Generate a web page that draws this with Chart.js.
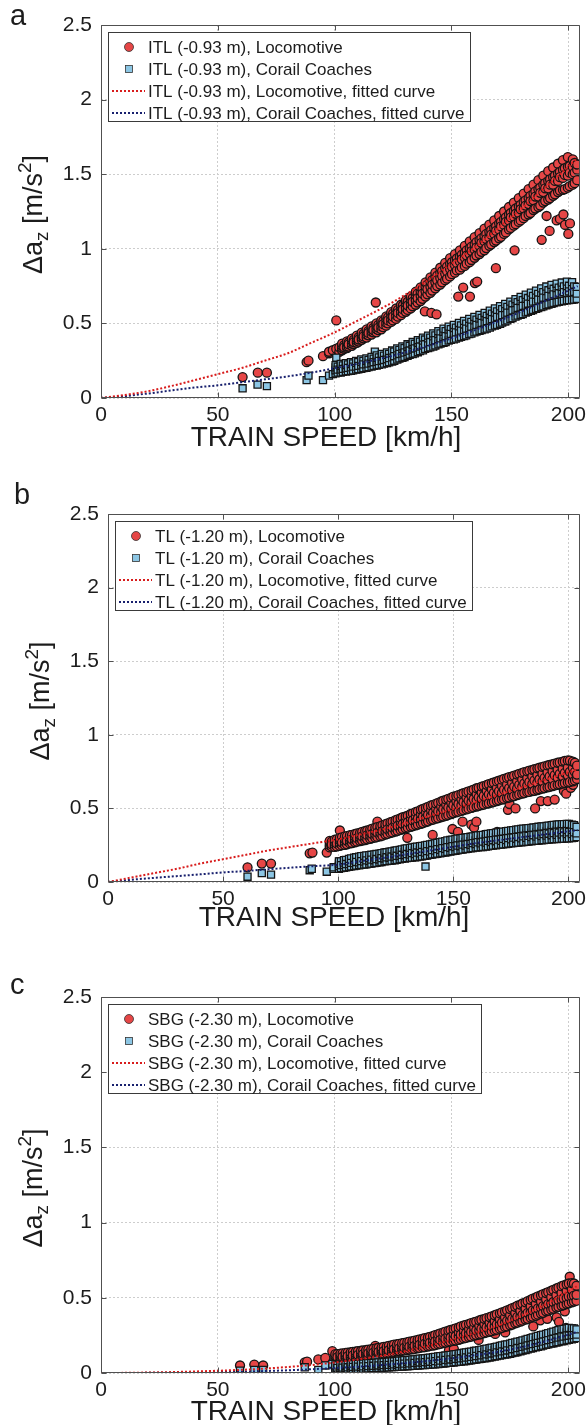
<!DOCTYPE html>
<html>
<head>
<meta charset="utf-8">
<title>Δaz versus train speed</title>
<script src="https://cdn.jsdelivr.net/npm/chart.js@4.4.0/dist/chart.umd.min.js"></script>
<style>
  html, body { margin: 0; padding: 0; background: #fff; }
  #page { position: relative; width: 587px; height: 1425px; }
  .panel { position: absolute; left: 0; }
</style>
</head>
<body>
<div id="page">
  <canvas class="panel" id="chartA" width="587" height="470" style="top:0px"></canvas>
  <canvas class="panel" id="chartB" width="587" height="490" style="top:470px"></canvas>
  <canvas class="panel" id="chartC" width="587" height="465" style="top:960px"></canvas>
</div>
<script>
// axis ticks: speed [km/h], vertical acceleration difference [m/s²]
const speedTicks = [0, 50, 100, 150, 200];
const accelTicks = [0, 0.5, 1, 1.5, 2, 2.5];
const speedMax = 205;
const accelMax = 2.5;

// measuring points and legend series names
const sites = ['ITL (-0.93 m)', 'TL (-1.20 m)', 'SBG (-2.30 m)'];
const seriesNames = ['Locomotive', 'Corail Coaches', 'Locomotive, fitted curve', 'Corail Coaches, fitted curve'];

// measured passes, each row is [speed, value, value, ...]
const itlLoco = [
  [60.6, .14], [67.1, .17], [71.0, .17], [88.0, .24], [88.8, .25], [95.0, .28], [97.6, .30, .31], [99.2, .32],
  [100.7, .52, .33], [102, .31, .34], [117.6, .64], [138.6, .58], [141.4, .57], [143.6, .56], [152.9, .68],
  [155, .74], [157.9, .68], [160, .77], [161, .78], [169, .87], [177, .99], [188.6, 1.06], [190.7, 1.22],
  [192, 1.12], [195, 1.19], [196.4, 1.20], [197.9, 1.23], [198.6, 1.16], [200, 1.10], [200.7, 1.17], [204.3, 1.49],
  [103.2, .32, .335, .35, .365], [104.1, .33, .355, .34], [105.3, .335, .345, .37, .38], [106.0, .345, .372, .36],
  [107.4, .35, .365, .385, .398], [108.2, .362, .39, .375], [109.5, .37, .385, .40, .418], [110.3, .378, .408, .392],
  [111.6, .39, .405, .425, .438], [112.4, .40, .43, .413], [113.7, .405, .425, .445, .46], [114.5, .42, .45, .436],
  [115.8, .425, .445, .465, .48], [116.6, .44, .47, .455], [117.9, .44, .462, .485, .50], [118.7, .455, .49, .472],
  [120.0, .46, .48, .505, .52], [120.8, .475, .515, .495], [122.1, .485, .505, .53, .547], [122.9, .50, .54, .52],
  [124.2, .51, .53, .555, .575], [125.0, .52, .565, .545], [126.3, .53, .555, .58, .60], [127.1, .545, .59, .57],
  [128.4, .555, .58, .61, .625], [129.2, .57, .62, .595], [130.5, .578, .605, .635, .655], [131.3, .59, .645, .62],
  [132.6, .60, .63, .66, .68], [133.4, .615, .67, .645], [134.7, .625, .655, .69, .712], [135.5, .64, .70, .67],
  [136.8, .65, .685, .715, .742], [137.6, .665, .73, .70], [138.9, .68, .715, .748, .775], [139.7, .695, .76, .73],
  [141.0, .705, .745, .78, .808], [141.8, .72, .79, .76], [143.1, .735, .775, .81, .84], [143.9, .75, .82, .79],
  [145.2, .76, .805, .84, .873], [146.0, .775, .85, .82], [147.3, .79, .835, .87, .905], [148.1, .80, .88, .85],
  [149.4, .815, .865, .90, .937], [150.2, .83, .91, .88], [151.5, .84, .89, .925, .964], [152.3, .855, .935, .905],
  [153.6, .86, .915, .95, .99], [154.4, .875, .96, .93], [155.7, .885, .94, .975, 1.02], [156.5, .90, .99, .955],
  [157.8, .91, .965, 1.005, 1.05], [158.6, .925, 1.015, .985], [159.9, .94, .995, 1.03, 1.078], [160.7, .955, 1.045, 1.01],
  [162.0, .965, 1.02, 1.06, 1.105], [162.8, .98, 1.07, 1.04], [164.1, .99, 1.05, 1.085, 1.135], [164.9, 1.005, 1.10, 1.065],
  [166.2, 1.02, 1.075, 1.115, 1.162], [167.0, 1.03, 1.125, 1.095], [168.3, 1.045, 1.10, 1.14, 1.19], [169.1, 1.055, 1.15, 1.12],
  [170.4, 1.07, 1.13, 1.17, 1.22], [171.2, 1.08, 1.18, 1.15], [172.5, 1.10, 1.16, 1.20, 1.25], [173.3, 1.11, 1.21, 1.18],
  [174.6, 1.13, 1.19, 1.23, 1.28], [175.4, 1.14, 1.24, 1.21], [176.7, 1.155, 1.215, 1.255, 1.31], [177.5, 1.165, 1.27, 1.235],
  [178.8, 1.18, 1.24, 1.285, 1.34], [179.6, 1.19, 1.295, 1.265], [180.9, 1.205, 1.27, 1.315, 1.37], [181.7, 1.22, 1.325, 1.29],
  [183.0, 1.23, 1.30, 1.34, 1.40], [183.8, 1.24, 1.355, 1.32], [185.1, 1.26, 1.325, 1.37, 1.43], [185.9, 1.27, 1.385, 1.35],
  [187.2, 1.28, 1.35, 1.40, 1.46], [188.0, 1.29, 1.41, 1.375], [189.3, 1.31, 1.38, 1.43, 1.49], [190.1, 1.32, 1.44, 1.405],
  [191.4, 1.33, 1.405, 1.455, 1.52], [192.2, 1.34, 1.465, 1.43], [193.5, 1.355, 1.43, 1.48, 1.545], [194.3, 1.365, 1.49, 1.455],
  [195.6, 1.38, 1.455, 1.505, 1.57], [196.4, 1.39, 1.515, 1.48], [197.7, 1.395, 1.475, 1.53, 1.595], [198.5, 1.40, 1.54, 1.495],
  [199.8, 1.41, 1.49, 1.55, 1.615], [200.6, 1.42, 1.555, 1.51], [201.9, 1.43, 1.50, 1.55, 1.60], [202.7, 1.44, 1.575, 1.51],
  [203.8, 1.46, 1.53, 1.565]
];
const itlCoach = [
  [60.6, .065], [67.0, .09], [71.0, .08], [88.0, .12], [88.8, .15], [95.0, .12], [97.6, .15], [99.2, .16],
  [100.7, .27], [117.2, .31],
  [100.4, .165, .185, .205, .22], [101.3, .17, .21, .19], [102.6, .17, .19, .215, .228], [103.5, .175, .218, .195],
  [104.8, .178, .198, .22, .233], [105.7, .18, .225, .202], [107.0, .182, .205, .228, .24], [107.9, .186, .232, .21],
  [109.2, .19, .21, .235, .248], [110.1, .193, .24, .215], [111.4, .195, .218, .243, .258], [112.3, .20, .248, .225],
  [113.6, .203, .226, .25, .265], [114.5, .207, .255, .23], [115.8, .21, .233, .26, .275], [116.7, .215, .263, .24],
  [118.0, .218, .243, .27, .285], [118.9, .222, .272, .248], [120.2, .225, .25, .278, .295], [121.1, .23, .284, .255],
  [122.4, .234, .26, .29, .305], [123.3, .24, .295, .268], [124.6, .244, .272, .302, .318], [125.5, .25, .31, .28],
  [126.8, .258, .286, .316, .333], [127.7, .265, .322, .295], [129.0, .27, .298, .33, .346], [129.9, .275, .335, .305],
  [131.2, .282, .31, .342, .36], [132.1, .29, .35, .318], [133.4, .295, .325, .357, .375], [134.3, .30, .362, .332],
  [135.6, .307, .338, .37, .388], [136.5, .315, .377, .345], [137.8, .32, .352, .385, .405], [138.7, .33, .392, .36],
  [140.0, .335, .367, .40, .418], [140.9, .34, .405, .375], [142.2, .345, .38, .413, .433], [143.1, .352, .42, .388],
  [144.4, .36, .395, .428, .448], [145.3, .365, .433, .40], [146.6, .37, .408, .443, .465], [147.5, .375, .448, .415],
  [148.8, .385, .42, .458, .478], [149.7, .39, .462, .43], [151.0, .393, .432, .468, .49], [151.9, .398, .472, .44],
  [153.2, .405, .445, .48, .503], [154.1, .41, .486, .452], [155.4, .415, .457, .493, .517], [156.3, .42, .498, .465],
  [157.6, .428, .468, .505, .53], [158.5, .432, .51, .478], [159.8, .44, .48, .52, .544], [160.7, .445, .525, .49],
  [162.0, .45, .493, .532, .557], [162.9, .455, .537, .503], [164.2, .46, .505, .545, .57], [165.1, .465, .55, .515],
  [166.4, .472, .518, .558, .585], [167.3, .48, .565, .528], [168.6, .485, .532, .573, .60], [169.5, .49, .58, .543],
  [170.8, .498, .545, .588, .615], [171.7, .505, .595, .555], [173.0, .513, .56, .603, .63], [173.9, .52, .61, .572],
  [175.2, .53, .577, .62, .646], [176.1, .535, .626, .588], [177.4, .545, .592, .636, .662], [178.3, .552, .642, .604],
  [179.6, .558, .607, .65, .678], [180.5, .563, .656, .617], [181.8, .572, .62, .665, .692], [182.7, .578, .67, .632],
  [184.0, .585, .634, .678, .706], [184.9, .59, .684, .646], [186.2, .598, .648, .692, .72], [187.1, .603, .698, .66],
  [188.4, .61, .66, .705, .735], [189.3, .615, .71, .672], [190.6, .622, .672, .717, .747], [191.5, .627, .722, .684],
  [192.8, .632, .683, .728, .758], [193.7, .637, .732, .694], [195.0, .641, .692, .737, .766], [195.9, .645, .74, .702],
  [197.2, .648, .70, .745, .774], [198.1, .651, .748, .71], [199.4, .654, .705, .75, .78], [200.3, .656, .752, .714],
  [201.6, .658, .707, .75, .777], [202.5, .66, .748, .712], [203.6, .665, .70, .745]
];
const tlLoco = [
  [60.6, .10], [66.8, .125], [70.8, .125], [87.6, .195], [88.8, .20], [95.0, .20], [100.7, .35], [117, .41],
  [130, .30], [137.9, .235], [141, .32], [149.6, .36], [152, .34], [154, .41], [157.8, .39], [159, .37], [160, .41],
  [169, .34], [173.7, .49], [174.4, .53], [177, .50], [185.5, .50], [188, .55], [191, .55], [194, .56],
  [198, .62], [199, .60], [201, .64], [202, .66],
  [96.3, .235, .25, .268, .28], [97.2, .24, .275, .255], [98.5, .238, .255, .272, .288], [99.4, .242, .29, .262],
  [100.7, .245, .265, .285, .30], [101.6, .25, .303, .27], [102.9, .252, .273, .292, .31], [103.8, .256, .312, .28],
  [105.1, .262, .282, .30, .318], [106.0, .265, .32, .29], [107.3, .27, .29, .308, .327], [108.2, .274, .33, .298],
  [109.5, .278, .30, .318, .336], [110.4, .282, .34, .31], [111.7, .285, .308, .328, .347], [112.6, .29, .35, .318],
  [113.9, .293, .316, .338, .358], [114.8, .298, .362, .326], [116.1, .302, .325, .348, .37], [117.0, .306, .373, .336],
  [118.3, .31, .335, .36, .38], [119.2, .315, .385, .346], [120.5, .322, .347, .372, .393], [121.4, .327, .398, .358],
  [122.7, .333, .358, .385, .407], [123.6, .337, .41, .37], [124.9, .343, .37, .397, .42], [125.8, .348, .425, .382],
  [127.1, .354, .382, .41, .434], [128.0, .36, .44, .394], [129.3, .365, .393, .422, .446], [130.2, .37, .45, .405],
  [131.5, .375, .405, .435, .462], [132.4, .38, .466, .418], [133.7, .385, .416, .448, .476], [134.6, .39, .48, .43],
  [135.9, .395, .428, .462, .492], [136.8, .40, .496, .442], [138.1, .407, .44, .475, .505], [139.0, .412, .51, .456],
  [140.3, .42, .452, .488, .52], [141.2, .424, .524, .47], [142.5, .43, .465, .50, .533], [143.4, .434, .538, .48],
  [144.7, .44, .476, .513, .547], [145.6, .445, .552, .494], [146.9, .45, .488, .525, .56], [147.8, .456, .565, .506],
  [149.1, .462, .50, .538, .573], [150.0, .468, .58, .52], [151.3, .473, .51, .55, .585], [152.2, .478, .59, .53],
  [153.5, .483, .522, .562, .598], [154.4, .488, .603, .542], [155.7, .493, .533, .574, .61], [156.6, .498, .615, .553],
  [157.9, .503, .544, .585, .622], [158.8, .508, .628, .564], [160.1, .513, .555, .598, .637], [161.0, .518, .64, .575],
  [162.3, .522, .565, .608, .648], [163.2, .526, .652, .585], [164.5, .532, .575, .62, .66], [165.4, .535, .665, .596],
  [166.7, .54, .585, .63, .672], [167.6, .545, .676, .606], [168.9, .55, .595, .64, .683], [169.8, .555, .688, .617],
  [171.1, .56, .605, .652, .695], [172.0, .564, .70, .627], [173.3, .57, .615, .663, .707], [174.2, .574, .712, .638],
  [175.5, .58, .625, .673, .718], [176.4, .584, .722, .648], [177.7, .59, .636, .685, .73], [178.6, .595, .735, .66],
  [179.9, .60, .647, .696, .742], [180.8, .604, .746, .67], [182.1, .61, .657, .706, .752], [183.0, .612, .756, .68],
  [184.3, .617, .666, .717, .762], [185.2, .62, .766, .69], [186.5, .625, .675, .726, .772], [187.4, .63, .776, .698],
  [188.7, .634, .684, .735, .782], [189.6, .638, .786, .708], [190.9, .643, .693, .745, .792], [191.8, .647, .795, .717],
  [193.1, .652, .70, .752, .80], [194.0, .656, .804, .726], [195.3, .66, .71, .762, .81], [196.2, .664, .812, .735],
  [197.5, .668, .718, .77, .818], [198.4, .672, .822, .742], [199.7, .676, .726, .777, .826], [200.6, .68, .825, .748],
  [201.9, .684, .73, .776, .818], [202.8, .69, .81, .748], [203.7, .70, .73, .79]
];
const tlCoach = [
  [60.6, .036], [66.8, .06], [70.8, .05], [87.6, .08], [88.5, .09], [95.0, .07], [98, .09, .10], [100.6, .14],
  [117, .16], [137.9, .105],
  [100.3, .09, .108, .125, .14], [101.2, .094, .14, .115], [102.5, .096, .115, .132, .148], [103.4, .10, .15, .122],
  [104.7, .103, .122, .14, .157], [105.6, .106, .16, .13], [106.9, .108, .128, .147, .165], [107.8, .112, .168, .136],
  [109.1, .114, .134, .153, .172], [110.0, .116, .175, .142], [111.3, .118, .138, .158, .177], [112.2, .12, .18, .147],
  [113.5, .123, .143, .163, .182], [114.4, .125, .185, .152], [115.7, .128, .148, .168, .187], [116.6, .13, .19, .156],
  [117.9, .133, .153, .173, .192], [118.8, .136, .196, .162], [120.1, .14, .16, .18, .20], [121.0, .142, .202, .168],
  [122.3, .144, .165, .186, .206], [123.2, .146, .208, .173], [124.5, .148, .17, .19, .212], [125.4, .151, .214, .178],
  [126.7, .154, .176, .197, .218], [127.6, .157, .222, .185], [128.9, .16, .182, .203, .226], [129.8, .162, .228, .19],
  [131.1, .164, .186, .208, .232], [132.0, .166, .234, .196], [133.3, .168, .19, .213, .238], [134.2, .17, .24, .20],
  [135.5, .173, .195, .218, .243], [136.4, .175, .245, .205], [137.7, .178, .20, .224, .248], [138.6, .18, .252, .21],
  [139.9, .185, .207, .23, .255], [140.8, .187, .258, .217], [142.1, .19, .213, .236, .262], [143.0, .192, .266, .223],
  [144.3, .195, .218, .243, .27], [145.2, .198, .274, .23], [146.5, .20, .225, .25, .278], [147.4, .204, .282, .237],
  [148.7, .207, .232, .257, .285], [149.6, .21, .288, .243], [150.9, .212, .237, .262, .292], [151.8, .215, .295, .248],
  [153.1, .218, .243, .268, .297], [154.0, .22, .30, .254], [155.3, .223, .248, .273, .302], [156.2, .225, .305, .258],
  [157.5, .228, .253, .278, .307], [158.4, .23, .31, .264], [159.7, .234, .258, .283, .313], [160.6, .236, .316, .27],
  [161.9, .237, .263, .288, .318], [162.8, .238, .32, .274], [164.1, .24, .268, .293, .324], [165.0, .242, .327, .279],
  [166.3, .245, .272, .298, .33], [167.2, .247, .332, .284], [168.5, .25, .277, .303, .335], [169.4, .252, .337, .288],
  [170.7, .254, .28, .306, .34], [171.6, .256, .342, .293], [172.9, .258, .285, .312, .345], [173.8, .26, .347, .298],
  [175.1, .262, .29, .317, .35], [176.0, .264, .352, .302], [177.3, .266, .294, .321, .355], [178.2, .268, .357, .306],
  [179.5, .27, .297, .325, .36], [180.4, .272, .362, .31], [181.7, .273, .30, .33, .364], [182.6, .275, .366, .314],
  [183.9, .277, .305, .334, .368], [184.8, .279, .37, .318], [186.1, .28, .308, .337, .372], [187.0, .282, .375, .322],
  [188.3, .284, .312, .341, .377], [189.2, .285, .378, .325], [190.5, .287, .315, .344, .381], [191.4, .288, .383, .328],
  [192.7, .29, .318, .348, .386], [193.6, .291, .388, .332], [194.9, .292, .32, .35, .39], [195.8, .293, .391, .335],
  [197.1, .294, .323, .353, .393], [198.0, .295, .393, .337], [199.3, .296, .325, .355, .395], [200.2, .297, .394, .338],
  [201.5, .298, .325, .354, .39], [202.4, .30, .386, .338], [203.5, .305, .33, .375]
];
const sbgLoco = [
  [59.5, .05], [65.6, .056], [69.4, .05], [87.2, .07], [88.2, .075], [93, .09], [96, .10], [99, .145],
  [117.4, .18], [148.9, .15], [151, .16], [161.6, .22], [168.7, .26], [173, .27], [185, .31], [188, .35],
  [191, .36], [195, .37], [196, .34], [198.5, .41], [199, .30], [200.6, .64],
  [100.3, .085, .10, .113, .125], [101.2, .088, .125, .105], [102.5, .089, .104, .117, .129], [103.4, .091, .131, .108],
  [104.7, .094, .108, .12, .134], [105.6, .096, .136, .112], [106.9, .098, .112, .124, .138], [107.8, .10, .14, .117],
  [109.1, .103, .117, .129, .143], [110.0, .105, .145, .121], [111.3, .107, .12, .133, .148], [112.2, .109, .15, .126],
  [113.5, .111, .125, .138, .153], [114.4, .113, .155, .131], [115.7, .116, .13, .143, .159], [116.6, .118, .161, .136],
  [117.9, .121, .135, .148, .165], [118.8, .124, .167, .141], [120.1, .128, .142, .156, .171], [121.0, .13, .174, .146],
  [122.3, .132, .147, .162, .177], [123.2, .135, .18, .152], [124.5, .137, .153, .168, .185], [125.4, .14, .188, .158],
  [126.7, .143, .158, .174, .191], [127.6, .146, .194, .164], [128.9, .148, .164, .18, .198], [129.8, .15, .20, .169],
  [131.1, .153, .169, .186, .205], [132.0, .156, .208, .175], [133.3, .158, .175, .193, .212], [134.2, .16, .215, .181],
  [135.5, .164, .181, .20, .22], [136.4, .167, .223, .188], [137.7, .17, .188, .207, .228], [138.6, .172, .232, .195],
  [139.9, .176, .195, .215, .236], [140.8, .18, .24, .202], [142.1, .182, .20, .223, .247], [143.0, .186, .252, .21],
  [144.3, .19, .21, .233, .258], [145.2, .194, .263, .22], [146.5, .198, .22, .243, .27], [147.4, .202, .275, .228],
  [148.7, .206, .228, .253, .282], [149.6, .21, .286, .236], [150.9, .213, .237, .262, .292], [151.8, .216, .297, .245],
  [153.1, .22, .245, .272, .304], [154.0, .225, .31, .255], [155.3, .23, .255, .283, .316], [156.2, .234, .32, .264],
  [157.5, .238, .264, .293, .327], [158.4, .242, .332, .274], [159.7, .248, .274, .303, .338], [160.6, .252, .342, .284],
  [161.9, .256, .284, .314, .35], [162.8, .26, .354, .293], [164.1, .265, .294, .325, .36], [165.0, .27, .365, .303],
  [166.3, .274, .303, .335, .372], [167.2, .278, .377, .313], [168.5, .283, .313, .346, .384], [169.4, .288, .39, .324],
  [170.7, .295, .325, .358, .397], [171.6, .30, .403, .335], [172.9, .306, .337, .37, .41], [173.8, .31, .417, .347],
  [175.1, .317, .35, .385, .425], [176.0, .322, .432, .36], [177.3, .33, .362, .40, .44], [178.2, .335, .447, .373],
  [179.5, .342, .376, .414, .455], [180.4, .348, .462, .387], [181.7, .355, .39, .43, .47], [182.6, .36, .478, .40],
  [183.9, .368, .405, .445, .487], [184.8, .374, .494, .416], [186.1, .38, .42, .46, .502], [187.0, .388, .51, .43],
  [188.3, .395, .434, .475, .517], [189.2, .40, .524, .445], [190.5, .41, .448, .49, .532], [191.4, .415, .538, .458],
  [192.7, .422, .462, .505, .547], [193.6, .428, .553, .472], [194.9, .435, .475, .518, .562], [195.8, .44, .567, .485],
  [197.1, .447, .488, .532, .577], [198.0, .452, .582, .497], [199.3, .458, .50, .545, .59], [200.2, .463, .595, .51],
  [201.5, .47, .51, .555, .598], [202.4, .475, .595, .515], [203.5, .48, .52, .58]
];
const sbgCoach = [
  [59.5, .016], [65.6, .02], [69.4, .02], [87.2, .038], [93, .02], [96, .05], [99, .06], [117.4, .084],
  [100.3, .02, .03, .042, .05], [101.2, .022, .05, .034], [102.5, .022, .032, .044, .052], [103.4, .023, .053, .036],
  [104.7, .024, .034, .046, .055], [105.6, .025, .056, .038], [106.9, .025, .036, .048, .058], [107.8, .026, .059, .04],
  [109.1, .027, .038, .05, .06], [110.0, .028, .061, .042], [111.3, .028, .04, .052, .062], [112.2, .029, .063, .044],
  [113.5, .03, .042, .054, .065], [114.4, .031, .066, .046], [115.7, .032, .044, .056, .067], [116.6, .033, .068, .048],
  [117.9, .033, .046, .058, .069], [118.8, .034, .07, .05], [120.1, .035, .048, .06, .071], [121.0, .036, .072, .052],
  [122.3, .037, .05, .063, .074], [123.2, .038, .075, .054], [124.5, .039, .052, .066, .077], [125.4, .04, .078, .057],
  [126.7, .041, .055, .068, .08], [127.6, .042, .082, .06], [128.9, .043, .057, .071, .083], [129.8, .044, .085, .062],
  [131.1, .045, .06, .074, .086], [132.0, .046, .088, .064], [133.3, .047, .062, .077, .09], [134.2, .048, .091, .067],
  [135.5, .05, .065, .08, .093], [136.4, .051, .095, .07], [137.7, .052, .068, .083, .097], [138.6, .053, .098, .072],
  [139.9, .055, .07, .086, .10], [140.8, .056, .102, .075], [142.1, .057, .073, .09, .105], [143.0, .058, .107, .079],
  [144.3, .06, .076, .094, .11], [145.2, .062, .112, .083], [146.5, .063, .08, .098, .114], [147.4, .065, .116, .087],
  [148.7, .067, .084, .102, .118], [149.6, .068, .12, .09], [150.9, .07, .087, .106, .123], [151.8, .072, .125, .094],
  [153.1, .074, .092, .111, .129], [154.0, .076, .131, .098], [155.3, .078, .097, .116, .135], [156.2, .08, .137, .103],
  [157.5, .083, .102, .121, .14], [158.4, .085, .142, .108], [159.7, .088, .107, .126, .146], [160.6, .09, .148, .113],
  [161.9, .092, .112, .132, .152], [162.8, .095, .155, .118], [164.1, .097, .117, .138, .158], [165.0, .10, .162, .124],
  [166.3, .103, .123, .144, .165], [167.2, .106, .168, .13], [168.5, .11, .13, .151, .172], [169.4, .113, .175, .137],
  [170.7, .116, .137, .158, .18], [171.6, .119, .183, .144], [172.9, .122, .144, .165, .188], [173.8, .125, .19, .15],
  [175.1, .128, .15, .173, .195], [176.0, .132, .20, .158], [177.3, .136, .158, .181, .203], [178.2, .14, .208, .166],
  [179.5, .145, .167, .19, .212], [180.4, .149, .217, .174], [181.7, .153, .176, .199, .222], [182.6, .157, .227, .183],
  [183.9, .162, .185, .208, .232], [184.8, .166, .237, .192], [186.1, .17, .194, .218, .242], [187.0, .174, .246, .20],
  [188.3, .178, .203, .227, .251], [189.2, .182, .255, .209], [190.5, .187, .212, .236, .26], [191.4, .19, .265, .218],
  [192.7, .195, .22, .246, .27], [193.6, .198, .275, .226], [194.9, .203, .23, .255, .28], [195.8, .206, .285, .235],
  [197.1, .21, .237, .263, .29], [198.0, .213, .293, .242], [199.3, .217, .244, .27, .297], [200.2, .22, .30, .248],
  [201.5, .224, .25, .275, .298], [202.4, .228, .297, .252], [203.5, .232, .255, .29]
];

// fitted curves, sampled at fitSpeeds
const fitSpeeds = [0, 10, 20, 30, 40, 50, 60, 70, 80, 90, 100, 110, 120, 130, 140, 150, 160, 170, 180, 190, 200, 204];
const itlLocoFit = [0, .02, .045, .08, .12, .16, .20, .25, .30, .37, .44, .52, .60, .69, .79, .90, 1.01, 1.14, 1.27, 1.41, 1.55, 1.61];
const itlCoachFit = [0, .012, .03, .05, .07, .085, .105, .125, .145, .17, .20, .23, .265, .305, .35, .40, .455, .515, .58, .65, .72, .75];
const tlLocoFit = [0, .03, .06, .09, .125, .155, .185, .215, .24, .265, .29, .325, .36, .405, .45, .495, .545, .595, .645, .695, .745, .765];
const tlCoachFit = [0, .015, .028, .04, .052, .065, .075, .087, .098, .108, .118, .142, .165, .19, .215, .24, .265, .285, .305, .325, .345, .352];
const sbgLocoFit = [0, .001, .003, .006, .01, .015, .021, .029, .04, .053, .07, .09, .115, .145, .18, .22, .265, .315, .38, .455, .545, .58];
const sbgCoachFit = [0, 0, .001, .002, .004, .006, .009, .013, .018, .025, .033, .042, .053, .066, .08, .097, .118, .142, .172, .21, .255, .275];

const FONT = "'Liberation Sans', Arial, Helvetica, sans-serif";
const TEXT = '#1c1c1c';
const AXIS = '#505050';
const GRID = '#cdcdcd';
const RED_FILL = '#e64646';
const BLUE_FILL = '#8cc6e4';
const EDGE = '#141414';
const RED_LINE = '#d81c1c';
const NAVY_LINE = '#18206e';

function rowsToPoints(rows) {
    const pts = [];
    rows.forEach(row => {
        for (let i = 1; i < row.length; i++) {
            pts.push({ x: row[0], y: row[i] });
        }
    });
    return pts;
}

function fitToPoints(values) {
    return fitSpeeds.map((s, i) => ({ x: s, y: values[i] }));
}

// axis label with subscript / superscript, drawn rotated
function drawYTitle(ctx, cx, cy) {
    const big = '27px ' + FONT;
    const small = '19px ' + FONT;
    const parts = [
        { t: 'Δa', f: big, dy: 0 },
        { t: 'z', f: small, dy: 6 },
        { t: ' [m/s', f: big, dy: 0 },
        { t: '2', f: small, dy: -11 },
        { t: ']', f: big, dy: 0 }
    ];
    ctx.save();
    ctx.translate(cx, cy);
    ctx.rotate(-Math.PI / 2);
    let total = 0;
    parts.forEach(p => { ctx.font = p.f; p.w = ctx.measureText(p.t).width; total += p.w; });
    let x = -total / 2;
    ctx.fillStyle = TEXT;
    ctx.textBaseline = 'alphabetic';
    ctx.textAlign = 'left';
    parts.forEach(p => {
        ctx.font = p.f;
        ctx.fillText(p.t, x, 9 + p.dy);
        x += p.w;
    });
    ctx.restore();
}

function drawLegend(chart, area, site) {
    const ctx = chart.ctx;
    const ds = chart.data.datasets;
    const labels = seriesNames.map(n => site + ', ' + n);
    ctx.save();
    ctx.font = '17px ' + FONT;
    const textW = Math.max(...labels.map(t => ctx.measureText(t).width));
    const x0 = Math.round(area.left) + 7;
    const y0 = Math.round(area.top) + 7;
    const w = Math.round(40 + textW + 5);
    const h = 89;
    ctx.fillStyle = '#fff';
    ctx.fillRect(x0, y0, w, h);
    ctx.strokeStyle = '#3a3a3a';
    ctx.lineWidth = 1;
    ctx.strokeRect(x0 + 0.5, y0 + 0.5, w, h);

    labels.forEach((label, i) => {
        const y = y0 + 15 + i * 22;
        const d = ds[i];
        if (i === 0) {
            ctx.beginPath();
            ctx.arc(x0 + 21, y, 4.5, 0, Math.PI * 2);
            ctx.fillStyle = d.backgroundColor;
            ctx.fill();
            ctx.strokeStyle = '#333';
            ctx.lineWidth = 0.8;
            ctx.stroke();
        } else if (i === 1) {
            ctx.fillStyle = d.backgroundColor;
            ctx.fillRect(x0 + 17.5, y - 3.5, 7, 7);
            ctx.strokeStyle = '#333';
            ctx.lineWidth = 0.8;
            ctx.strokeRect(x0 + 17.5, y - 3.5, 7, 7);
        } else {
            ctx.beginPath();
            ctx.setLineDash(d.borderDash);
            ctx.strokeStyle = d.borderColor;
            ctx.lineWidth = d.borderWidth;
            ctx.moveTo(x0 + 4, y);
            ctx.lineTo(x0 + 37, y);
            ctx.stroke();
            ctx.setLineDash([]);
        }
        ctx.fillStyle = TEXT;
        ctx.textAlign = 'left';
        ctx.textBaseline = 'middle';
        ctx.fillText(label, x0 + 40, y + 1);
    });
    ctx.restore();
}

// box, inward ticks on all sides, titles, legend and panel letter
const figureDecor = {
    id: 'figureDecor',
    afterDraw(chart, args, opts) {
        const ctx = chart.ctx;
        const a = chart.chartArea;
        const xs = chart.scales.x;
        const ys = chart.scales.y;
        const L = Math.round(a.left) + 0.5, R = Math.round(a.right) - 0.5;
        const T = Math.round(a.top) + 0.5, B = Math.round(a.bottom) - 0.5;
        ctx.save();
        ctx.strokeStyle = AXIS;
        ctx.lineWidth = 1;
        ctx.beginPath();
        ctx.rect(L, T, R - L, B - T);
        speedTicks.forEach(v => {
            const px = Math.round(xs.getPixelForValue(v)) + 0.5;
            ctx.moveTo(px, B); ctx.lineTo(px, B - 5);
            ctx.moveTo(px, T); ctx.lineTo(px, T + 5);
        });
        accelTicks.forEach(v => {
            const py = Math.round(ys.getPixelForValue(v)) + 0.5;
            ctx.moveTo(L, py); ctx.lineTo(L + 5, py);
            ctx.moveTo(R, py); ctx.lineTo(R - 5, py);
        });
        ctx.stroke();

        ctx.fillStyle = TEXT;
        ctx.font = '28px ' + FONT;
        ctx.textAlign = 'center';
        ctx.textBaseline = 'alphabetic';
        ctx.fillText('TRAIN SPEED [km/h]', opts.xTitle[0], opts.xTitle[1]);

        ctx.font = '29px ' + FONT;
        ctx.textAlign = 'left';
        ctx.fillText(opts.letter, opts.letterPos[0], opts.letterPos[1]);
        ctx.restore();

        drawYTitle(ctx, opts.yTitleX, (a.top + a.bottom) / 2 + 3);
        drawLegend(chart, a, opts.site);
    }
};

function buildPanel(canvasId, p) {
    const canvas = document.getElementById(canvasId);
    const W = canvas.width, H = canvas.height;
    const tickFont = { family: FONT, size: 21 };
    return new Chart(canvas, {
        type: 'scatter',
        data: {
            datasets: [
                {
                    label: seriesNames[0], data: rowsToPoints(p.loco), order: 2,
                    pointStyle: 'circle', pointRadius: 4.5, pointHoverRadius: 4.5,
                    backgroundColor: RED_FILL, borderColor: EDGE, borderWidth: 1.3
                },
                {
                    label: seriesNames[1], data: rowsToPoints(p.coach), order: 1,
                    pointStyle: 'rect', pointRadius: 5, pointHoverRadius: 5,
                    backgroundColor: BLUE_FILL, borderColor: EDGE, borderWidth: 1.3
                },
                {
                    label: seriesNames[2], data: fitToPoints(p.locoFit), order: 0,
                    showLine: true, pointRadius: 0, borderColor: RED_LINE, borderWidth: 2,
                    borderDash: [2, 2], cubicInterpolationMode: 'monotone', fill: false
                },
                {
                    label: seriesNames[3], data: fitToPoints(p.coachFit), order: 0,
                    showLine: true, pointRadius: 0, borderColor: NAVY_LINE, borderWidth: 2,
                    borderDash: [2, 2], cubicInterpolationMode: 'monotone', fill: false
                }
            ]
        },
        options: {
            responsive: false,
            animation: false,
            events: [],
            layout: { padding: { left: 0, right: W - p.area.right, top: p.area.top, bottom: 0 } },
            plugins: {
                legend: { display: false },
                tooltip: { enabled: false },
                figureDecor: {
                    site: p.site, letter: p.letter, letterPos: p.letterPos,
                    xTitle: p.xTitle, yTitleX: p.yTitleX
                }
            },
            scales: {
                x: {
                    type: 'linear', min: 0, max: speedMax,
                    afterBuildTicks: s => { s.ticks = speedTicks.map(v => ({ value: v })); },
                    afterFit: s => { s.height = H - p.area.bottom; s.paddingLeft = 0; s.paddingRight = 0; },
                    grid: { color: GRID, drawTicks: false },
                    border: { display: false, dash: [2, 2] },
                    ticks: { padding: 5, color: TEXT, font: tickFont, maxRotation: 0, autoSkip: false,
                             callback: v => String(v) }
                },
                y: {
                    type: 'linear', min: 0, max: accelMax,
                    afterBuildTicks: s => { s.ticks = accelTicks.map(v => ({ value: v })); },
                    afterFit: s => { s.width = p.area.left; s.paddingTop = 0; s.paddingBottom = 0; },
                    grid: { color: GRID, drawTicks: false },
                    border: { display: false, dash: [2, 2] },
                    ticks: { padding: 9, color: TEXT, font: tickFont, autoSkip: false,
                             callback: v => String(v) }
                }
            }
        },
        plugins: [figureDecor]
    });
}

buildPanel('chartA', {
    site: sites[0], letter: 'a', letterPos: [10, 25],
    loco: itlLoco, coach: itlCoach, locoFit: itlLocoFit, coachFit: itlCoachFit,
    area: { left: 101, right: 580, top: 25, bottom: 398 },
    xTitle: [326, 446], yTitleX: 33
});
buildPanel('chartB', {
    site: sites[1], letter: 'b', letterPos: [14, 34],
    loco: tlLoco, coach: tlCoach, locoFit: tlLocoFit, coachFit: tlCoachFit,
    area: { left: 108, right: 580, top: 44, bottom: 412 },
    xTitle: [334, 456], yTitleX: 40
});
buildPanel('chartC', {
    site: sites[2], letter: 'c', letterPos: [10, 34],
    loco: sbgLoco, coach: sbgCoach, locoFit: sbgLocoFit, coachFit: sbgCoachFit,
    area: { left: 101, right: 580, top: 37, bottom: 413 },
    xTitle: [326, 460], yTitleX: 33
});
</script>
</body>
</html>
